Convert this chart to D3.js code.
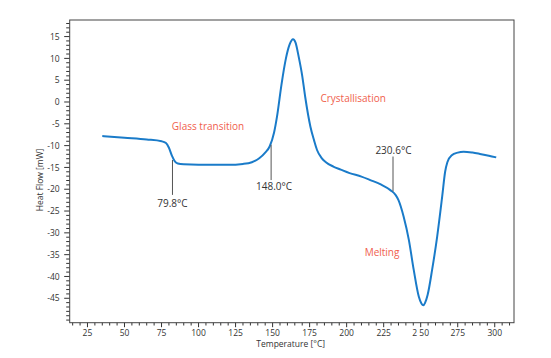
<!DOCTYPE html>
<html><head><meta charset="utf-8">
<script src="https://cdn.jsdelivr.net/npm/d3@7"></script>
<style>body{margin:0;background:#fff}svg{display:block}text{font-family:"Open Sans",sans-serif}</style>
</head><body><svg id="c" width="551" height="358"></svg>
<script>
// Temperature (°C) and heat flow (mW)
const temperature = [35,50,65,75,78,80,82,84,86,90,100,120,130,136,141,145,148,151,153,156,159,161.5,163.8,165.5,167.6,170,172,175.5,178,180,183,186,191,196,202,210,216,223,229.5,233,235,238.5,242,245.3,248.7,250.5,251.8,253,254.7,257.7,261.1,264.5,266.5,268,271,275,279,285,290,296,301];
const heatFlow = [-7.8,-8.2,-8.6,-9.0,-9.4,-10.5,-12.3,-13.6,-14.1,-14.3,-14.4,-14.4,-14.2,-13.8,-12.9,-11.6,-10.2,-7.0,-3.3,4.0,10.0,13.2,14.4,13.6,10.4,6.0,1.2,-5.6,-8.8,-11.0,-12.8,-13.8,-14.8,-15.5,-16.3,-17.1,-17.9,-18.9,-20.2,-21.3,-22.5,-26.3,-31.6,-38.5,-44.6,-46.2,-46.6,-46.0,-44.2,-38.5,-30.9,-21.7,-16.0,-13.8,-12.2,-11.6,-11.4,-11.6,-11.9,-12.3,-12.7];
const xTickValues = [25,50,75,100,125,150,175,200,225,250,275,300];
const xTickLabels = ["25","50","75","100","125","150","175","200","225","2 50","275","300"];
const yTickValues = [15,10,5,0,-5,-10,-15,-20,-25,-30,-35,-40,-45];
// annotation markers: temperature, top, bottom of marker line, label text, label position
const markerT = [82.4,149.0,231.3];
const markerTop = [-13.3,-9.8,-12.5];
const markerBottom = [-21.3,-17.9,-20.5];
const markerLabels = ["79.8°C","148.0°C","230.6°C"];
const markerLabelT = [82.4,151,231.6];
const markerLabelHF = [-24.1,-20.2,-11.9];
const eventLabels = ["Glass transition","Crystallisation","Melting"];
const eventT = [106.4,204.4,223.9];
const eventHF = [-6.4,0.0,-35.3];

const svg = d3.select("#c");
const L=69.7,R=514,T=20,B=322.7;
const x = d3.scaleLinear().domain([13,313]).range([L,R]);
const y = d3.scaleLinear().domain([-50.6,18.8]).range([B,T]);

const xMinor = d3.range(15,313,5);
const yMinor = d3.range(-50,19,1);
const ax = svg.append("g").attr("transform",`translate(0,${B})`);
ax.selectAll("line.m").data(xMinor).join("line").attr("x1",d=>x(d)).attr("x2",d=>x(d)).attr("y1",0).attr("y2",d=>xTickValues.includes(d)?4.5:2.8).attr("stroke","#333").attr("stroke-width",1);
ax.selectAll("text").data(xTickValues).join("text").attr("x",d=>x(d)).attr("y",13.5).attr("text-anchor","middle").attr("font-size",8.5).attr("fill","#333").text((d,i)=>xTickLabels[i]);
const ay = svg.append("g").attr("transform",`translate(${L},0)`);
ay.selectAll("line.m").data(yMinor).join("line").attr("y1",d=>y(d)).attr("y2",d=>y(d)).attr("x1",0).attr("x2",d=>yTickValues.includes(d)?-5.5:-3.5).attr("stroke","#333").attr("stroke-width",1);
ay.selectAll("text").data(yTickValues).join("text").attr("x",-10).attr("y",d=>y(d)+3.2).attr("text-anchor","end").attr("font-size",8.5).attr("fill","#333").text(d=>d);

svg.append("rect").attr("x",L).attr("y",T).attr("width",R-L).attr("height",B-T).attr("fill","none").attr("stroke","#444").attr("stroke-width",1);

svg.append("text").attr("x",290.7).attr("y",347).attr("text-anchor","middle").attr("font-size",8.5).attr("fill","#333").text("Temperature [°C]");
svg.append("text").attr("transform","translate(43,180) rotate(-90)").attr("text-anchor","middle").attr("font-size",8.5).attr("fill","#333").text("Heat Flow [mW]");

const pts = temperature.map((t,i)=>[t,heatFlow[i]]);
svg.append("path").datum(pts).attr("d",d3.line().x(d=>x(d[0])).y(d=>y(d[1])).curve(d3.curveMonotoneX)).attr("fill","none").attr("stroke","#1a7bc9").attr("stroke-width",2);

svg.selectAll("line.mk").data(markerT).join("line").attr("x1",d=>x(d)).attr("x2",d=>x(d)).attr("y1",(d,i)=>y(markerTop[i])).attr("y2",(d,i)=>y(markerBottom[i])).attr("stroke","#555").attr("stroke-width",1);
svg.selectAll("text.mk").data(markerLabels).join("text").attr("x",(d,i)=>x(markerLabelT[i])).attr("y",(d,i)=>y(markerLabelHF[i])).attr("text-anchor","middle").attr("font-size",10).attr("fill","#333").text(d=>d);
svg.selectAll("text.ev").data(eventLabels).join("text").attr("x",(d,i)=>x(eventT[i])).attr("y",(d,i)=>y(eventHF[i])).attr("text-anchor","middle").attr("font-size",10).attr("fill","#f0604d").text(d=>d);
</script></body></html>
